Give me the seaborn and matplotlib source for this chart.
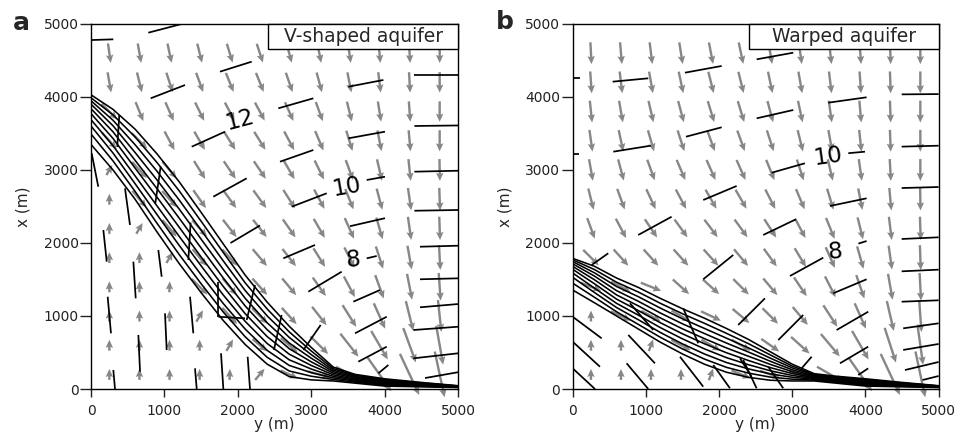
import numpy as np
import pandas as pd
import seaborn as sns
import matplotlib.pyplot as plt
from matplotlib.patches import Rectangle

# arrow grid (data y = horizontal axis, data x = vertical axis)
grid_y = [250, 660, 1070, 1480, 1890, 2300, 2700, 3110, 3520, 3930, 4340, 4750]
grid_x = [4600, 4200, 3800, 3400, 3000, 2600, 2200, 1800, 1400, 1000, 600, 200]

# flow direction (deg) read per arrow, rows top -> bottom
ang_a = [
    [-82, -80, -78, -76, -73, -72, -75, -79, -82, -85, -87, -90],
    [-80, -76, -72, -70, -68, -68, -71, -75, -79, -83, -87, -90],
    [-45, -68, -66, -64, -62, -62, -66, -70, -76, -81, -86, -90],
    [-48, -45, -62, -60, -58, -58, -62, -67, -73, -79, -85, -90],
    [60, -48, -50, -58, -56, -56, -60, -64, -70, -77, -84, -89],
    [90, -50, -48, -55, -54, -54, -58, -62, -68, -75, -82, -88],
    [90, 60, -50, -48, -52, -52, -55, -60, -66, -74, -82, -88],
    [90, 90, 60, -50, -48, -50, -52, -58, -64, -72, -80, -87],
    [90, 90, 88, -45, -50, -48, -50, -55, -62, -70, -79, -86],
    [90, 90, 90, 60, -48, -45, -48, -52, -58, -66, -76, -84],
    [90, 90, 90, 90, 60, -40, -40, -45, -52, -60, -70, -80],
    [90, 90, 90, 90, 88, 50, -25, -15, -30, -55, -65, -78],
]
len_a = [
    [270, 270, 270, 270, 270, 270, 270, 270, 270, 270, 270, 270],
    [280, 280, 280, 280, 280, 280, 280, 280, 280, 280, 280, 280],
    [300, 280, 280, 280, 280, 280, 280, 280, 280, 280, 280, 280],
    [300, 300, 290, 290, 290, 290, 290, 290, 290, 290, 290, 290],
    [160, 300, 300, 290, 290, 290, 290, 290, 290, 300, 300, 300],
    [150, 300, 300, 300, 300, 300, 300, 300, 300, 300, 310, 310],
    [150, 170, 300, 300, 300, 300, 300, 300, 310, 310, 320, 320],
    [150, 150, 170, 300, 300, 300, 300, 300, 310, 320, 330, 340],
    [150, 150, 150, 300, 300, 300, 300, 310, 320, 340, 360, 380],
    [150, 150, 150, 180, 300, 300, 300, 320, 350, 380, 420, 440],
    [150, 150, 150, 150, 180, 260, 300, 340, 400, 450, 500, 540],
    [150, 150, 150, 150, 150, 200, 260, 320, 420, 560, 620, 640],
]
ang_b = [
    [-87, -85, -83, -81, -79, -78, -80, -82, -84, -86, -88, -90],
    [-86, -83, -80, -78, -76, -76, -78, -80, -83, -86, -88, -90],
    [-84, -80, -77, -75, -73, -73, -75, -78, -82, -85, -88, -90],
    [-82, -78, -74, -72, -70, -70, -72, -76, -80, -84, -88, -90],
    [-80, -75, -70, -67, -66, -66, -68, -72, -77, -82, -87, -90],
    [-76, -70, -65, -62, -60, -60, -63, -67, -73, -79, -85, -89],
    [-70, -62, -56, -54, -53, -54, -57, -62, -68, -76, -83, -88],
    [-45, -48, -48, -48, -48, -50, -54, -59, -66, -74, -82, -88],
    [-22, -28, -22, -42, -42, -45, -50, -56, -63, -71, -80, -87],
    [90, -25, -28, -30, -25, -40, -45, -50, -57, -66, -77, -86],
    [90, 90, 70, -28, -30, -30, -35, -42, -50, -60, -72, -82],
    [90, 90, 90, 90, 70, -22, -20, -18, -30, -55, -65, -78],
]
len_b = [
    [300, 300, 300, 300, 300, 300, 300, 300, 300, 300, 300, 300],
    [300, 300, 300, 300, 300, 300, 300, 300, 300, 300, 300, 300],
    [300, 300, 300, 300, 300, 300, 300, 300, 300, 300, 300, 300],
    [300, 300, 300, 300, 300, 300, 300, 300, 300, 300, 300, 300],
    [300, 300, 300, 300, 300, 300, 300, 300, 300, 300, 300, 300],
    [300, 300, 300, 300, 300, 300, 300, 300, 300, 300, 310, 310],
    [300, 300, 300, 300, 300, 300, 300, 300, 310, 310, 320, 320],
    [300, 300, 300, 300, 300, 300, 300, 300, 310, 320, 330, 340],
    [300, 300, 300, 300, 300, 300, 300, 310, 320, 340, 360, 380],
    [150, 300, 300, 300, 300, 300, 300, 320, 350, 380, 420, 440],
    [150, 150, 170, 300, 300, 300, 300, 340, 400, 450, 500, 540],
    [150, 150, 150, 150, 170, 280, 300, 320, 420, 560, 620, 640],
]

# streamlines: x value of each of 10 curves at these y stations
stream_y = [0, 300, 600, 900, 1200, 1500, 1800, 2100, 2400, 2700, 3000, 3300, 3600, 4000, 4500, 5000]
stream_a = [
    [4030, 3989, 3948, 3901, 3840, 3772, 3690, 3602, 3493, 3350],
    [3830, 3755, 3681, 3606, 3523, 3432, 3332, 3232, 3124, 3000],
    [3560, 3453, 3347, 3240, 3133, 3027, 2920, 2813, 2707, 2600],
    [3220, 3101, 2982, 2863, 2744, 2626, 2507, 2388, 2269, 2150],
    [2840, 2716, 2591, 2467, 2342, 2218, 2093, 1969, 1844, 1720],
    [2420, 2298, 2176, 2053, 1931, 1809, 1687, 1564, 1442, 1320],
    [1990, 1873, 1757, 1640, 1523, 1407, 1290, 1173, 1057, 940],
    [1560, 1454, 1349, 1243, 1138, 1032, 927, 821, 716, 610],
    [1190, 1096, 1001, 907, 812, 718, 623, 529, 434, 340],
    [860, 783, 707, 630, 553, 477, 400, 323, 247, 170],
    [570, 521, 471, 422, 372, 323, 274, 224, 175, 125],
    [300, 279, 258, 237, 216, 194, 173, 152, 131, 110],
    [200, 187, 173, 160, 147, 133, 120, 107, 93, 80],
    [140, 129, 118, 107, 96, 84, 73, 62, 51, 40],
    [90, 83, 77, 70, 63, 57, 50, 43, 37, 30],
    [45, 42, 39, 37, 34, 31, 28, 26, 23, 20],
]
stream_b = [
    [1790, 1770, 1745, 1715, 1680, 1640, 1590, 1530, 1450, 1356],
    [1680, 1635, 1590, 1545, 1495, 1440, 1380, 1320, 1255, 1180],
    [1520, 1462, 1404, 1347, 1289, 1231, 1173, 1116, 1058, 1000],
    [1390, 1327, 1263, 1200, 1137, 1073, 1010, 947, 883, 820],
    [1240, 1173, 1107, 1040, 973, 907, 840, 773, 707, 640],
    [1100, 1031, 962, 893, 824, 756, 687, 618, 549, 480],
    [970, 900, 830, 760, 690, 620, 550, 480, 410, 340],
    [830, 763, 697, 630, 563, 497, 430, 363, 297, 230],
    [680, 622, 564, 507, 449, 391, 333, 276, 218, 160],
    [510, 467, 423, 380, 337, 293, 250, 207, 163, 120],
    [340, 314, 289, 263, 238, 212, 186, 161, 135, 110],
    [210, 199, 188, 177, 166, 154, 143, 132, 121, 110],
    [175, 164, 154, 143, 133, 122, 112, 101, 91, 80],
    [140, 129, 118, 107, 96, 84, 73, 62, 51, 40],
    [90, 83, 77, 70, 63, 57, 50, 43, 37, 30],
    [45, 42, 39, 37, 34, 31, 28, 26, 23, 20],
]

# head contour dashes (y0, x0, y1, x1)
dash_a = [
    (0, 4780, 304, 4790), (781, 4881, 1235, 5000), (1757, 4347, 2189, 4484),
    (813, 3982, 1281, 4164), (2552, 3845, 3029, 3982), (3506, 4141, 3983, 4233),
    (4406, 4301, 5000, 4301), (1372, 3319, 1826, 3525), (2575, 3114, 3029, 3274),
    (3506, 3434, 4005, 3525), (4406, 3603, 5000, 3610), (1666, 2634, 2121, 2886),
    (2734, 2497, 3211, 2681), (3756, 2863, 4005, 2908), (4406, 2977, 5000, 2990),
    (1900, 2000, 2302, 2240), (2620, 1790, 3052, 1973), (3529, 2230, 4005, 2340),
    (4406, 2442, 5000, 2452), (2961, 1333, 3415, 1607), (3756, 1790, 3892, 1822),
    (3574, 1196, 3937, 1356), (4482, 1949, 5000, 1963), (3597, 763, 4029, 990),
    (4482, 1503, 5000, 1516), (3642, 374, 4029, 580), (4482, 1119, 5000, 1164),
    (4391, 808, 5000, 853), (4391, 420, 5000, 489), (4550, 150, 5000, 230),
    (2893, 534, 3129, 877), (3915, 215, 4051, 329),
    (385, 3753, 358, 3315), (949, 3046, 876, 2543), (1357, 2279, 1326, 1767),
    (1735, 1470, 1735, 991), (1735, 990, 2098, 968), (2234, 1425, 2121, 945),
    (2597, 1014, 2492, 534),
    (9, 3229, 99, 2771), (168, 2178, 214, 1744), (227, 1264, 272, 763), (304, 260, 327, 0),
    (463, 2749, 531, 2247), (577, 1744, 609, 1242), (645, 740, 668, 237),
    (917, 1904, 963, 1538), (1008, 1037, 1031, 534),
    (1349, 1264, 1394, 763), (1417, 283, 1440, 0),
    (1771, 489, 1803, 0), (2134, 442, 2166, 0),
]
dash_b = [
    (2514, 4516, 3014, 4607), (1534, 4333, 2036, 4425), (546, 4210, 1033, 4256),
    (0, 4265, 100, 4265), (3492, 3922, 4016, 3996), (4495, 4036, 5000, 4040),
    (2514, 3708, 3014, 3822), (1548, 3456, 2036, 3585), (555, 3251, 1066, 3333),
    (0, 3215, 80, 3215), (3766, 3230, 3994, 3251), (2719, 2963, 3173, 3092),
    (4495, 3320, 5000, 3333), (1784, 2589, 2240, 2781), (896, 2110, 1352, 2360),
    (3515, 2507, 4016, 2612), (4495, 2753, 5000, 2767), (2604, 2110, 3051, 2325),
    (3904, 1992, 4016, 2027), (4495, 2055, 5000, 2078), (2969, 1548, 3424, 1799),
    (1784, 1503, 2194, 1836), (260, 1699, 486, 1859), (3560, 1311, 4016, 1503),
    (4495, 1612, 5000, 1635), (2262, 877, 2627, 1242), (2809, 671, 3150, 1014),
    (3606, 808, 4038, 1059), (4495, 1196, 5000, 1215), (3652, 352, 4038, 580),
    (4516, 831, 5000, 900), (4516, 535, 5000, 617), (4540, 260, 5000, 370),
    (4780, 123, 5000, 178), (3128, 283, 3265, 442), (3902, 192, 4038, 283),
    (783, 1174, 1101, 808), (1511, 1105, 1716, 626), (2286, 420, 2445, 168),
    (0, 990, 396, 694), (0, 648, 373, 305), (0, 283, 305, 0),
    (760, 740, 1124, 352), (737, 352, 1033, 0), (1466, 442, 1784, 32),
    (1921, 329, 2149, 10), (2331, 397, 2513, 10), (2672, 305, 2877, 10),
]

# contour labels (y, x, text, rotation)
labels_a = [(2030, 3685, "12", 15), (3484, 2771, "10", 10), (3574, 1767, "8", 5)]
labels_b = [(3492, 3183, "10", 8), (3583, 1881, "8", 5)]

sns.set_theme(style="ticks")
plt.rcParams["font.family"] = ["DejaVu Sans"]

arrow_color = "#878787"


def draw_panel(ax, ang, lng, stream, dashes, labels, title, box_left):
    Y, X = np.meshgrid(grid_y, grid_x)
    th = np.radians(np.array(ang, dtype=float))
    L = np.array(lng, dtype=float)
    q = ax.quiver(Y, X, L * np.cos(th), L * np.sin(th), angles="xy",
                  scale_units="xy", scale=1, pivot="middle", color=arrow_color,
                  width=0.0065, headwidth=3.1, headlength=3.4,
                  headaxislength=3.0, zorder=1)
    q.set_clip_on(False)

    arr = np.array(stream)
    rows = []
    for c in range(arr.shape[1]):
        for i, yv in enumerate(stream_y):
            rows.append({"y": yv, "x": arr[i, c], "curve": c})
    df = pd.DataFrame(rows)
    sns.lineplot(data=df, x="y", y="x", units="curve", estimator=None,
                 sort=False, color="black", lw=1.15, legend=False, ax=ax,
                 zorder=3)

    for y0, x0, y1, x1 in dashes:
        ax.plot([y0, y1], [x0, x1], color="black", lw=1.25,
                solid_capstyle="butt", zorder=3)

    for yv, xv, txt, rot in labels:
        ax.text(yv, xv, txt, fontsize=16.5, rotation=rot, ha="center",
                va="center", color="black", zorder=4)

    ax.add_patch(Rectangle((box_left, 0.932), 1 - box_left, 0.068,
                           transform=ax.transAxes, facecolor="white",
                           edgecolor="black", lw=1.0, zorder=5,
                           clip_on=False))
    ax.text((box_left + 1) / 2, 0.966, title, transform=ax.transAxes,
            fontsize=13.5, ha="center", va="center", zorder=6)

    ax.set_xlim(0, 5000)
    ax.set_ylim(0, 5000)
    ax.set_xticks(range(0, 5001, 1000))
    ax.set_yticks(range(0, 5001, 1000))
    ax.set_xlabel("y (m)", fontsize=11)
    ax.set_ylabel("x (m)", fontsize=11)
    ax.xaxis.set_label_coords(0.5, -0.078)
    ax.yaxis.set_label_coords(-0.165, 0.5)
    ax.tick_params(axis="x", length=6, width=1, pad=5, labelsize=10,
                   colors="#222222")
    ax.tick_params(axis="y", length=8, width=1, pad=1, labelsize=10,
                   colors="#222222")
    for s in ax.spines.values():
        s.set_visible(True)
        s.set_linewidth(1.0)
        s.set_color("black")


fig = plt.figure(figsize=(9.57, 4.46), dpi=100)
ax_a = fig.add_axes([0.0951, 0.1278, 0.3835, 0.8184])
ax_b = fig.add_axes([0.5984, 0.1278, 0.3824, 0.8184])

draw_panel(ax_a, ang_a, len_a, stream_a, dash_a, labels_a, "V-shaped aquifer", 0.483)
draw_panel(ax_b, ang_b, len_b, stream_b, dash_b, labels_b, "Warped aquifer", 0.4825)

fig.text(0.022, 0.948, "a", fontsize=18, fontweight="bold", ha="center", va="center")
fig.text(0.528, 0.951, "b", fontsize=18, fontweight="bold", ha="center", va="center")

fig.savefig("out.png", dpi=100, facecolor="white")
